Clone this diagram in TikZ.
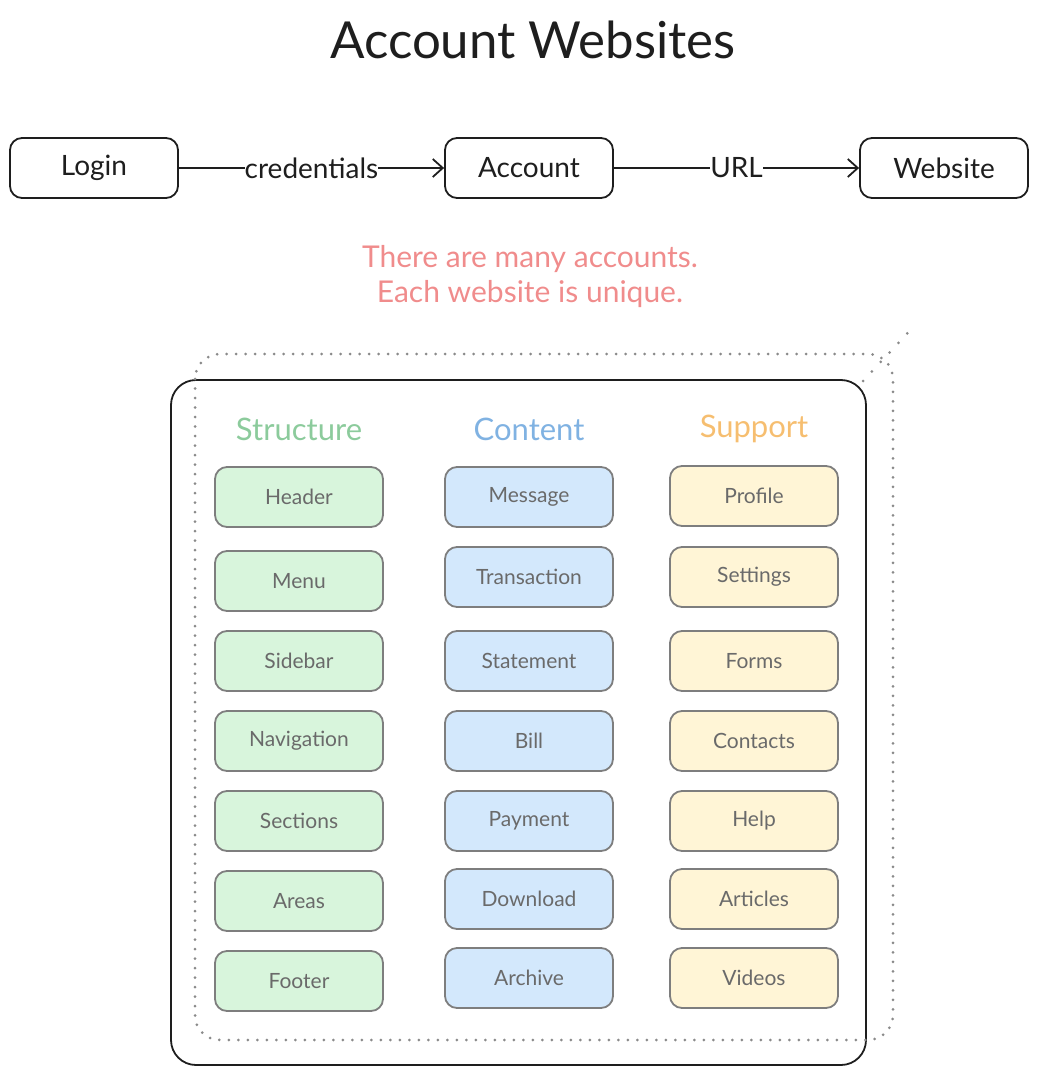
\documentclass[tikz,border=0pt]{standalone}
\usepackage{fontspec}
\setmainfont{Lato}
\usetikzlibrary{arrows.meta}
\definecolor{ink}{HTML}{1E1E1E}
\definecolor{noteRed}{HTML}{F08C8C}
\definecolor{dotGrey}{HTML}{8A8A8A}
\definecolor{pillLine}{HTML}{7E7E7E}
\definecolor{pillText}{HTML}{6A6A6A}
\definecolor{strGreen}{HTML}{8CCB9C}
\definecolor{strFill}{HTML}{D8F5DC}
\definecolor{conBlue}{HTML}{80B2E2}
\definecolor{conFill}{HTML}{D3E8FC}
\definecolor{supOrange}{HTML}{F6BE70}
\definecolor{supFill}{HTML}{FFF5D6}
\begin{document}
\begin{tikzpicture}[x=1pt,y=-1pt,
    flowbox/.style={draw=ink,line width=1.8pt,rounded corners=12pt,minimum width=168pt,minimum height=60pt,font=\fontsize{28}{32}\selectfont,text=ink},
    flowarrow/.style={draw=ink,line width=1.8pt,-{Straight Barb[length=10pt,width=18pt,line width=1.8pt]}},
    edgelabel/.style={fill=white,inner sep=0pt,font=\fontsize{28}{32}\selectfont,text=ink},
    pill/.style={draw=pillLine,line width=1.8pt,rounded corners=12pt,minimum width=168pt,minimum height=60pt,text=pillText,font=\fontsize{21}{24}\selectfont},
    colhead/.style={font=\fontsize{31}{36}\selectfont}]
        \useasboundingbox (0,0) rectangle (1037,1075);
        % title
        \node[font=\fontsize{51}{60}\selectfont,text=ink] (title) at (533,40) {Account Websites};
        % flow
        \node[flowbox] (login) at (94,168) {Login};
        \node[flowbox] (account) at (529,168) {Account};
        \node[flowbox] (website) at (944,168) {Website};
        \draw[flowarrow] (login) -- node[edgelabel] {credentials} (account);
        \draw[flowarrow] (account) -- node[edgelabel] {URL} (website);
        % note
        \node[text=noteRed,align=center,font=\fontsize{30}{35}\selectfont] (note) at (530,277) {There are many accounts.\\Each website is unique.};
        % frame
        \draw[ink,line width=1.8pt,rounded corners=25pt] (171,380) rectangle (866,1065);
        \draw[dotGrey,line width=3pt,line cap=round,dash pattern=on 0pt off 9.5pt,rounded corners=25pt] (195,354) rectangle (893,1040);
        \draw[dotGrey,line width=3pt,line cap=round,dash pattern=on 0pt off 13pt] (863,381) -- (916,324);
        % columns
        \node[colhead,text=strGreen] (structure) at (299,429) {Structure};
        \node[colhead,text=conBlue] (content) at (529,429) {Content};
        \node[colhead,text=supOrange] (support) at (754,429) {Support};
        \foreach \y/\name in {497/Header,581/Menu,661/Sidebar,741/Navigation,821/Sections,901/Areas,981/Footer}
            \node[pill,fill=strFill] (str-\name) at (299,\y) {\name};
        \foreach \y/\name in {497/Message,577/Transaction,661/Statement,741/Bill,821/Payment,899/Download,978/Archive}
            \node[pill,fill=conFill] (con-\name) at (529,\y) {\name};
        \foreach \y/\name in {496/Profile,577/Settings,661/Forms,741/Contacts,821/Help,899/Articles,978/Videos}
            \node[pill,fill=supFill] (sup-\name) at (754,\y) {\name};
\end{tikzpicture}
\end{document}
